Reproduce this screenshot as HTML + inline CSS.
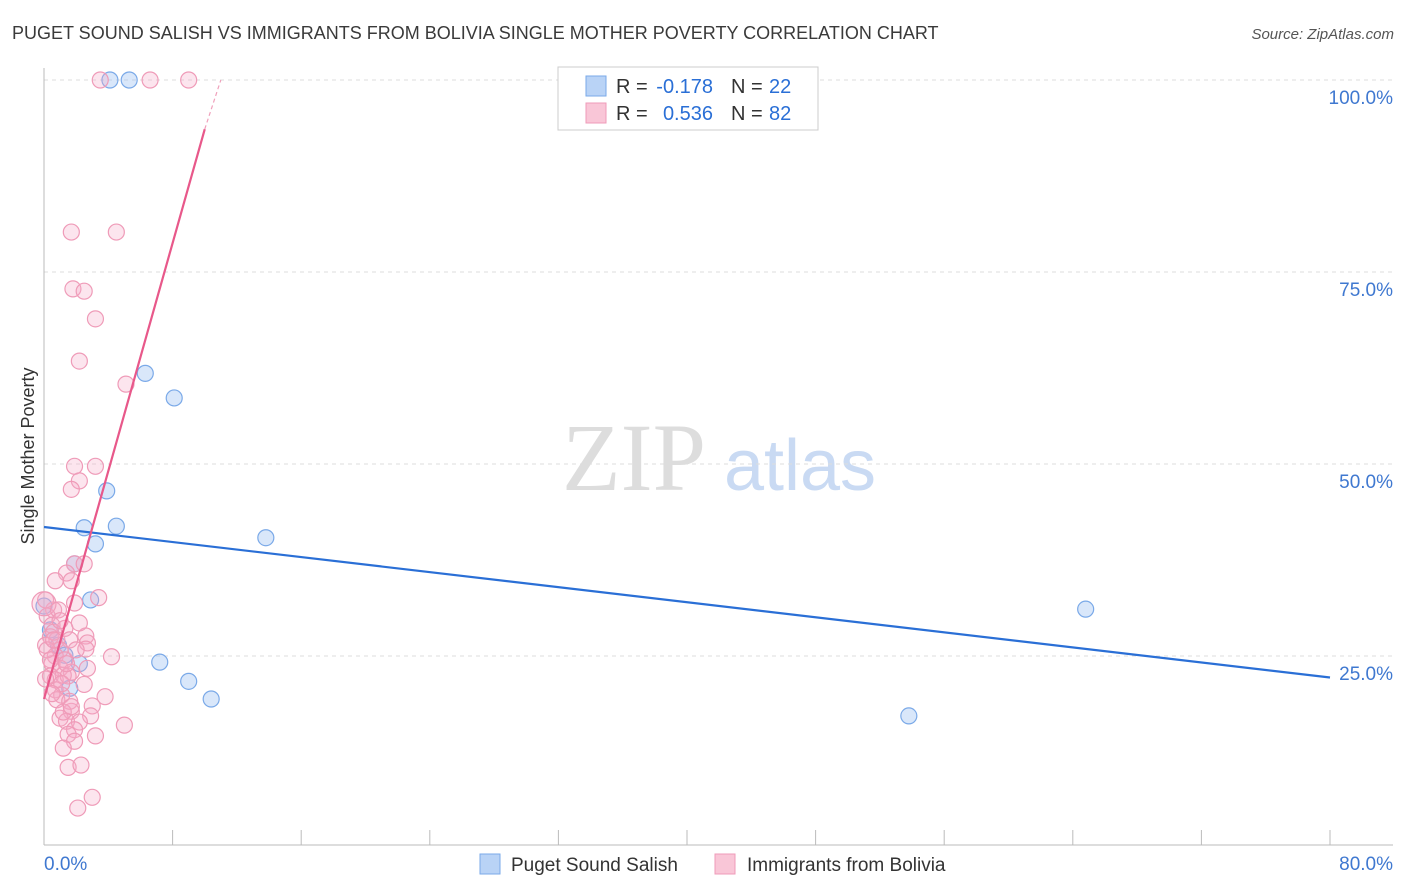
<!DOCTYPE html>
<html><head><meta charset="utf-8"><style>
body{margin:0;background:#fff;font-family:"Liberation Sans",sans-serif;}
svg{display:block}
</style></head><body>
<svg width="1406" height="892" viewBox="0 0 1406 892" id="chart">
<text x="12" y="39" font-size="18" fill="#3a3a3a">PUGET SOUND SALISH VS IMMIGRANTS FROM BOLIVIA SINGLE MOTHER POVERTY CORRELATION CHART</text>
<text x="1394" y="39" font-size="15" fill="#555" text-anchor="end" font-style="italic">Source: ZipAtlas.com</text>
<g>
<text x="634" y="490" font-size="96" fill="#ddd" text-anchor="middle" font-family="Liberation Serif,serif">ZIP</text>
<text x="800" y="490" font-size="72" fill="#c9daf3" text-anchor="middle">atlas</text>
</g>
<g id="grid"></g>
<g id="axes"></g>
<g id="marks"></g>
<text transform="translate(34,456) rotate(-90)" font-size="18" fill="#333" text-anchor="middle">Single Mother Poverty</text>
<g>
<rect x="558" y="67" width="260" height="63" fill="#fff" stroke="#ccc"/>
<rect x="586" y="76" width="20" height="20" fill="#b9d3f6" stroke="#7aa9e8"/>
<rect x="586" y="103" width="20" height="20" fill="#f9c6d7" stroke="#ef9bb8"/>
<text x="616" y="93" font-size="20" fill="#333">R =</text>
<text x="713" y="93" font-size="20" fill="#2a6fd6" text-anchor="end">-0.178</text>
<text x="731" y="93" font-size="20" fill="#333">N =</text>
<text x="769" y="93" font-size="20" fill="#2a6fd6">22</text>
<text x="616" y="120" font-size="20" fill="#333">R =</text>
<text x="713" y="120" font-size="20" fill="#2a6fd6" text-anchor="end">0.536</text>
<text x="731" y="120" font-size="20" fill="#333">N =</text>
<text x="769" y="120" font-size="20" fill="#2a6fd6">82</text>
</g>
<g>
<rect x="480" y="854" width="20" height="20" fill="#b9d3f6" stroke="#7aa9e8"/>
<text x="511" y="871" font-size="19" fill="#333">Puget Sound Salish</text>
<rect x="715" y="854" width="20" height="20" fill="#f9c6d7" stroke="#ef9bb8"/>
<text x="747" y="871" font-size="19" fill="#333">Immigrants from Bolivia</text>
</g>
</svg>
<script>
const yTicks=[25,50,75,100];
const yTickLabels=["25.0%","50.0%","75.0%","100.0%"];
const xTickLabels=["0.0%","80.0%"];
const blueX=[4.1,5.3,6.3,8.1,3.9,2.5,4.5,3.2,13.8,1.9,2.9,0,64.8,7.2,9.0,10.4,53.8,1.6,2.2,0.9,0.4,1.3];
const blueY=[100,100,61.8,58.6,46.5,41.7,41.9,39.6,40.4,37.0,32.3,31.5,31.1,24.2,21.7,19.4,17.2,20.8,24.0,26.4,28.4,25.1];
const pinkX=[3.5,6.6,9.0,1.7,4.5,1.8,2.5,3.2,2.2,5.1,1.9,3.2,2.2,1.7,1.9,2.5,1.4,0.7,1.7,3.4,1.9,0.6,0.1,0.2,0.5,1.3,0.4,0.8,1.6,2.6,2.7,0.1,1.0,2.6,0.7,1.3,4.2,0.5,1.0,2.7,1.7,0.4,1.2,0.7,1.5,0.7,1.1,3.8,0.8,3.0,1.7,1.0,2.9,1.4,2.2,5.0,1.9,1.5,3.2,1.9,1.2,1.5,2.3,2.1,3.0,0,0.2,0.6,1.1,1.6,0.9,2.2,0.5,1.4,2.5,0.1,1.0,2.0,0.4,1.2,0.6,1.7];
const pinkY=[100,100,100,80.2,80.2,72.8,72.5,68.9,63.4,60.4,49.7,49.7,47.8,46.7,37.0,37.0,35.8,34.8,34.8,32.6,31.9,31.0,32.3,30.2,29.0,28.6,27.5,27.1,27.1,27.6,26.7,26.4,25.8,25.9,25.0,24.5,24.9,24.0,23.4,23.4,22.9,22.4,22.5,21.9,22.4,20.6,19.9,19.7,19.3,18.5,17.8,16.9,17.2,16.5,16.4,16.0,15.4,14.8,14.6,13.9,13.0,10.5,10.8,5.2,6.6,31.8,25.8,28.1,21.4,19.1,31.0,29.3,20.1,24.0,21.3,22.0,29.6,25.8,24.5,17.7,27.1,18.4];
const blueTrend=[[0,41.8],[80,22.2]];
const pinkTrend=[[0,19.4],[10.0,93.6]];
const pinkDash=[[10.0,93.6],[11.0,100]];
const X=v=>44+v/80*1286, Y=v=>848-v*7.68;
const NS="http://www.w3.org/2000/svg";
function mk(p,tag,a){const e=document.createElementNS(NS,tag);for(const k in a)e.setAttribute(k,a[k]);p.appendChild(e);return e;}
const grid=document.getElementById('grid'),axes=document.getElementById('axes'),marks=document.getElementById('marks');
yTicks.forEach((t,i)=>{
 const l=mk(grid,'line',{x1:44,x2:1393,y1:Y(t),y2:Y(t),stroke:'#ddd','stroke-dasharray':'4,4'});
 
 
 const tx=mk(axes,'text',{x:1393,y:Y(t)+24,'font-size':19,fill:'#3f78d0','text-anchor':'end'});tx.textContent=yTickLabels[i];
 
 
});
const ax=mk(axes,'line',{x1:44,x2:1393,y1:845,y2:845,stroke:'#bbb'});


const ay=mk(axes,'line',{x1:44,x2:44,y1:68,y2:845,stroke:'#bbb'});


for(let i=0;i<=10;i++){const v=i*8;const t=mk(axes,'line',{x1:X(v),x2:X(v),y1:830,y2:845,stroke:'#bbb'});
 
 }
[[0,'start',44],[80,'end',1393]].forEach((d,i)=>{const t=mk(axes,'text',{x:d[2],y:870,'font-size':19,fill:'#3f78d0','text-anchor':d[1]});t.textContent=xTickLabels[i];
 
 });
blueX.forEach((x,i)=>{const c=mk(marks,'circle',{cx:X(x),cy:Y(blueY[i]),r:8,fill:'rgba(160,195,242,0.4)',stroke:'#7aa9e8','stroke-width':1.2});
 
 });
pinkX.forEach((x,i)=>{const c=mk(marks,'circle',{cx:X(x),cy:Y(pinkY[i]),r:(i==65?12:8),fill:'rgba(246,170,198,0.3)',stroke:'#ef9bb8','stroke-width':1.2});
 
 });
const bl=mk(marks,'line',{x1:X(blueTrend[0][0]),y1:Y(blueTrend[0][1]),x2:X(blueTrend[1][0]),y2:Y(blueTrend[1][1]),stroke:'#2a6fd6','stroke-width':2.2});


const pl=mk(marks,'line',{x1:X(pinkTrend[0][0]),y1:Y(pinkTrend[0][1]),x2:X(pinkTrend[1][0]),y2:Y(pinkTrend[1][1]),stroke:'#e8588a','stroke-width':2.2});


const pd=mk(marks,'line',{x1:X(pinkDash[0][0]),y1:Y(pinkDash[0][1]),x2:X(pinkDash[1][0]),y2:Y(pinkDash[1][1]),stroke:'#f0a0bb','stroke-width':1.2,'stroke-dasharray':'4,3'});


</script>
</body></html>
